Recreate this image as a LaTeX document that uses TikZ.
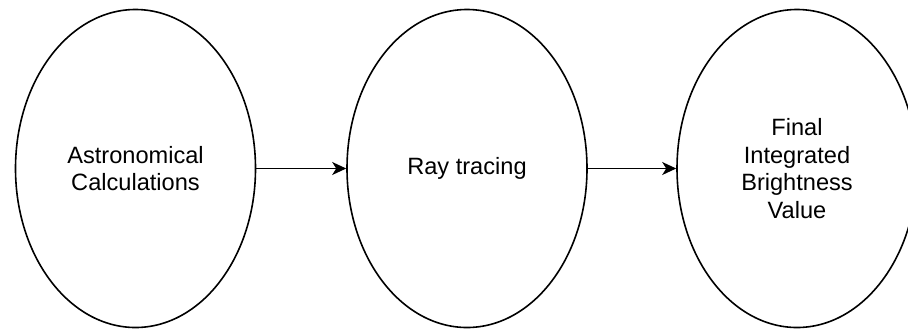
\documentclass[tikz,border=0pt]{standalone}
\usepackage{fontspec}
\setmainfont{Liberation Sans}
\usetikzlibrary{arrows.meta, shapes.geometric}

\begin{document}
\begin{tikzpicture}[x=0.5pt, y=0.5pt, line width=0.8pt,
    stage/.style={draw, ellipse, inner sep=0pt, minimum width=120pt, minimum height=159pt,
      align=center, font=\fontsize{11.8}{13.9}\selectfont},
    flow/.style={-{Stealth[length=7pt, width=6.5pt, inset=2pt]}}]
                \useasboundingbox (0,0) rectangle (908,329);
                \node[stage] (astro) at (135.5,160.5) {Astronomical\\Calculations};
                \node[stage] (ray) at (467,160.5) {Ray tracing};
                \node[stage] (bright) at (797,160.5) {Final\\Integrated\\Brightness\\Value};
                \draw[flow] (astro) -- (ray);
                \draw[flow] (ray) -- (bright);
            \end{tikzpicture}
\end{document}
